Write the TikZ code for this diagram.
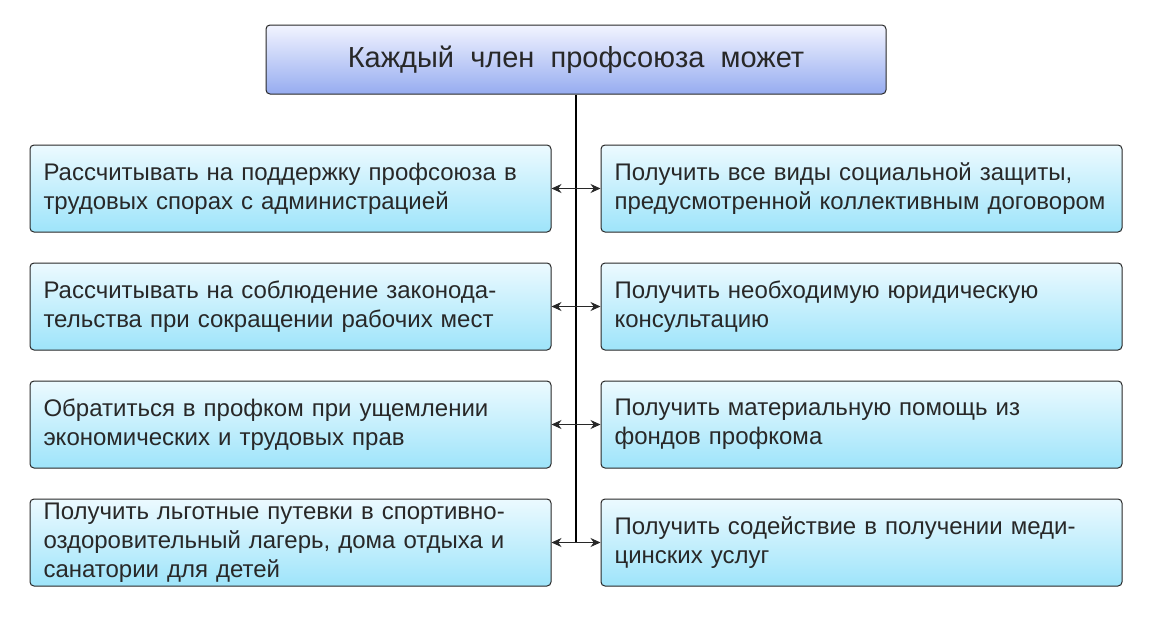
\documentclass[tikz,border=0pt]{standalone}
\usepackage{fontspec}
\setmainfont{Liberation Sans}
\usetikzlibrary{positioning,arrows.meta}

\definecolor{boxtop}{RGB}{236,250,255}
\definecolor{boxbot}{RGB}{158,228,250}
\definecolor{headtop}{RGB}{242,244,255}
\definecolor{headbot}{RGB}{150,172,240}
\definecolor{ink}{RGB}{40,40,40}

\tikzset{
    item/.style={draw=ink, line width=1pt, rounded corners=4pt, top color=boxtop, bottom color=boxbot,
        minimum width=521pt, minimum height=87pt, text width=494pt, align=left,
        font=\fontsize{24}{29}\selectfont, text=ink},
    head/.style={draw=ink, line width=1pt, rounded corners=4pt, top color=headtop, bottom color=headbot,
        minimum width=620pt, minimum height=69pt, font=\fontsize{29}{34}\selectfont, text=ink},
    link/.style={{Stealth[length=10pt,width=9pt]}-{Stealth[length=10pt,width=9pt]}, ink, line width=1pt}
}

\begin{document}
\begin{tikzpicture}[x=1pt,y=-1pt]

    % Fondo
    \useasboundingbox[fill=white] (0,0) rectangle (1154,616);

    % Titulo
    \node[head] (title) at (576,59.5) {Каждый\ \ член\ \ профсоюза\ \ может};

    % Columna izquierda
    \node[item] (l1) at (290.5,188.5) {Рассчитывать на поддержку профсоюза в\\трудовых спорах с администрацией};
    \node[item] (l2) at (290.5,306.5) {Рассчитывать на соблюдение законода-\\тельства при сокращении рабочих мест};
    \node[item] (l3) at (290.5,424.5) {Обратиться в профком при ущемлении\\экономических и трудовых прав};
    \node[item] (l4) at (290.5,542.5) {Получить льготные путевки в спортивно-\\оздоровительный лагерь, дома отдыха и\\санатории для детей};

    % Columna derecha
    \node[item] (r1) at (861.5,188.5) {Получить все виды социальной защиты,\\предусмотренной коллективным договором};
    \node[item] (r2) at (861.5,306.5) {Получить необходимую юридическую\\консультацию};
    \node[item] (r3) at (861.5,424.5) {Получить материальную помощь из\\фондов профкома};
    \node[item] (r4) at (861.5,542.5) {Получить содействие в получении меди-\\цинских услуг};

    % Linea central
    \coordinate (stem end) at (title.south |- l4.east);
    \draw[black, line width=1.5pt] (title.south) -- (stem end);

    % Flechas
    \foreach \i in {1,2,3,4}
        \draw[link] (l\i.east) -- (r\i.west);

\end{tikzpicture}
\end{document}
